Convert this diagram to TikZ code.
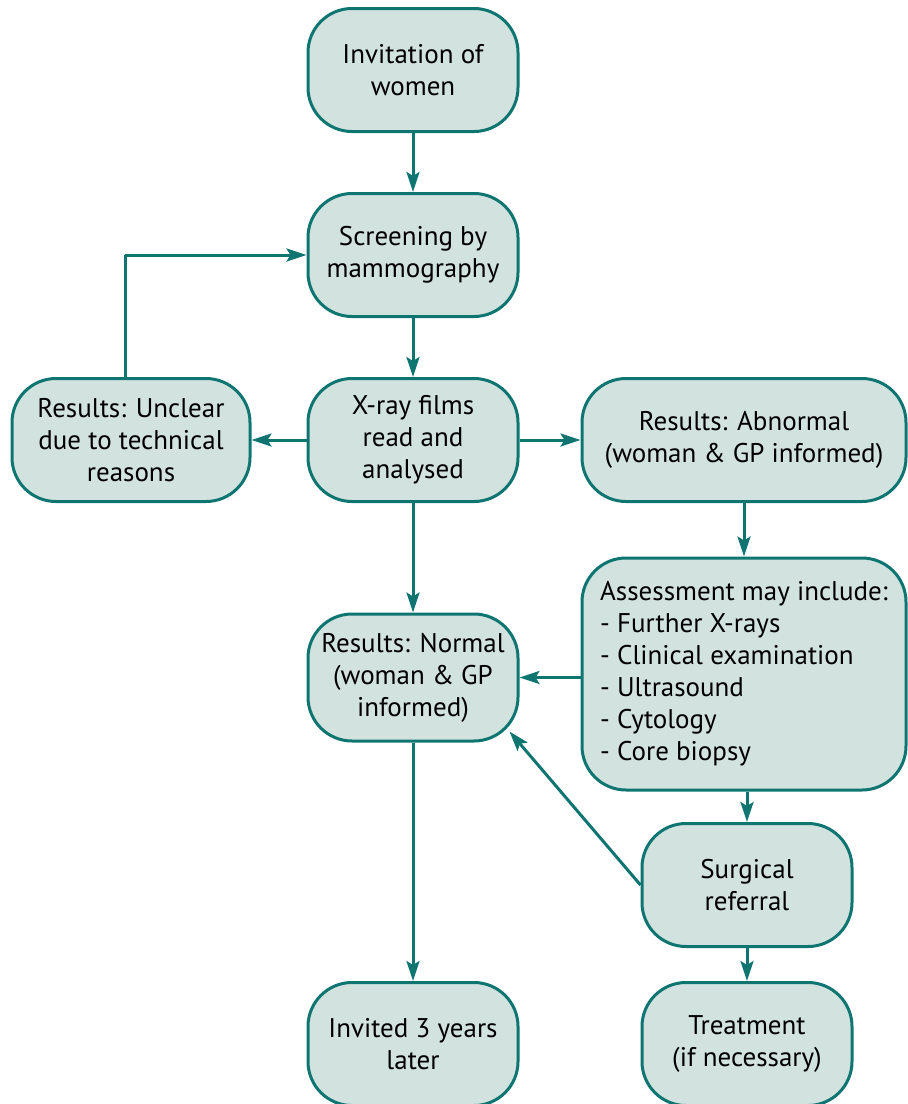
\documentclass[tikz,border=0pt]{standalone}
\usepackage{fontspec}
\setmainfont{PT Sans}
\usepackage{xcolor}
\usepackage{tikz}
\usetikzlibrary{arrows.meta, positioning}
\definecolor{LineColour}{HTML}{0E7571}
\definecolor{FillColour}{HTML}{D2E2DF}

\begin{document}
\begin{tikzpicture}[x = 0.5pt, y = -0.5pt, line width = 1.5pt, line join = round,
    box/.style = {draw = LineColour, fill = FillColour, rounded corners = 22pt,
                  minimum width = 105pt, minimum height = 61.5pt, align = center,
                  inner sep = 2pt, font = \fontsize{13.5}{16}\selectfont},
    flow/.style = {draw = LineColour, -{Stealth[length = 10pt, width = 6.5pt, inset = 2pt]}}]

    \useasboundingbox (0, 0) rectangle (908, 1104);

    % middle column
    \node[box] (invite) at (413, 70) {Invitation of\\women};
    \node[box] (screen) at (413, 255) {Screening by\\mammography};
    \node[box] (xray) at (413, 440) {X-ray films\\read and\\analysed};
    \node[box, minimum height = 63.5pt] (normal) at (413, 677.5) {Results: Normal\\(woman \& GP\\informed)};
    \node[box] (later) at (413, 1044) {Invited 3 years\\later};

    % sides
    \node[box, minimum width = 119pt] (unclear) at (131, 440) {Results: Unclear\\due to technical\\reasons};
    \node[box, minimum width = 162pt] (abnormal) at (744, 440) {Results: Abnormal\\(woman \& GP informed)};
    \node[box, minimum width = 162pt, minimum height = 116pt, align = left] (assess) at (744, 674)
        {Assessment may include:\\- Further X-rays\\- Clinical examination\\- Ultrasound\\- Cytology\\- Core biopsy};
    \node[box] (surgical) at (747, 885) {Surgical\\referral};
    \node[box] (treat) at (747, 1044) {Treatment\\(if necessary)};

    \draw[flow] (invite) -- (screen);
    \draw[flow] (screen) -- (xray);
    \draw[flow] (xray) -- (unclear);
    \draw[flow] (xray) -- (abnormal);
    \draw[flow] ([xshift = -3pt]unclear.north) |- (screen.west);
    \draw[flow] (xray) -- (normal);
    \draw[flow] (abnormal.south -| assess) -- (assess);
    \draw[flow] (assess.west |- normal.east) -- (normal.east);
    \draw[flow] (assess.south -| surgical) -- (surgical);
    \draw[flow] (surgical.west) -- ([shift = {(-10, -11)}]normal.south east);
    \draw[flow] (normal) -- (later);
    \draw[flow] (surgical) -- (treat);
\end{tikzpicture}
\end{document}
